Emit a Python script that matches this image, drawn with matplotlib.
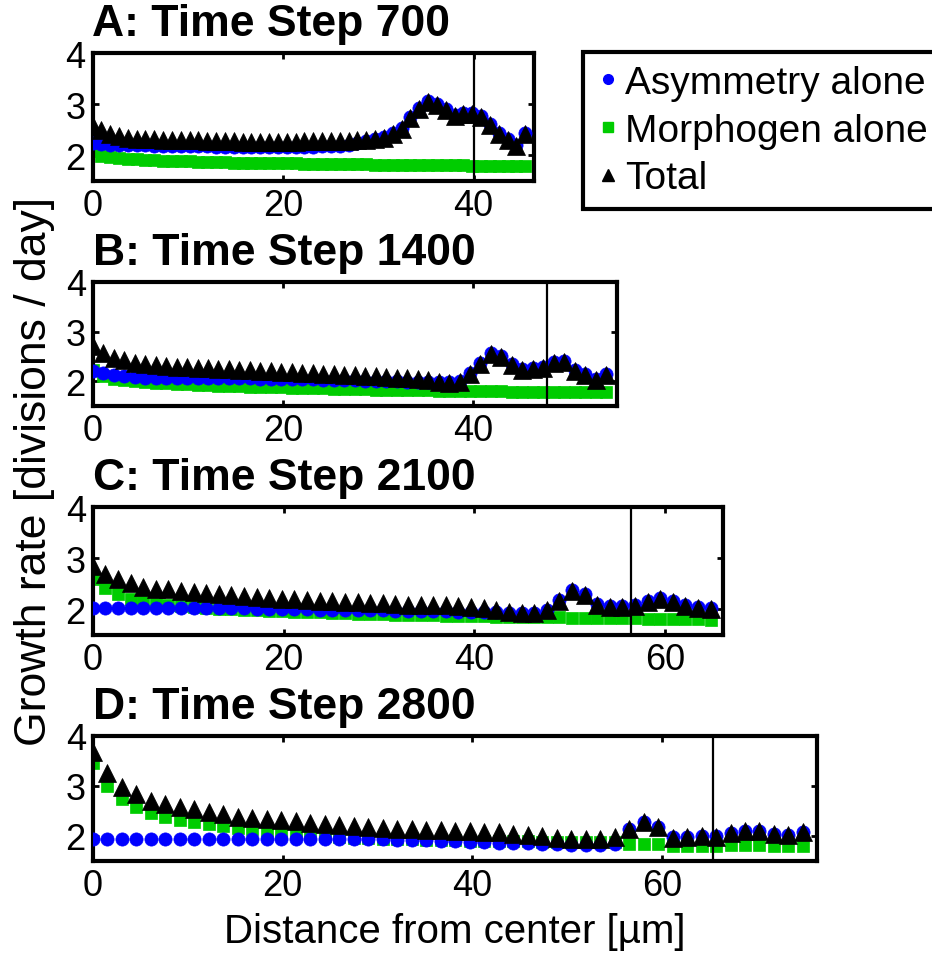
#!/usr/bin/env python3
import matplotlib
matplotlib.use('Agg')
import matplotlib.pyplot as plt
from matplotlib.lines import Line2D
import numpy as np

plt.rcParams['font.family'] = ['Liberation Sans', 'DejaVu Sans']

titles = ['A: Time Step 700', 'B: Time Step 1400', 'C: Time Step 2100', 'D: Time Step 2800']
labels = ['Asymmetry alone', 'Morphogen alone', 'Total']

# cell spacing along x (um) and the boundary line of each panel
spacing = [0.927, 1.102, 1.322, 1.527]
boundary = [40.1, 47.8, 56.4, 65.3]
xmax = [46.35, 55.1, 66.1, 76.3]
xticks = [[0, 20, 40], [0, 20, 40], [0, 20, 40, 60], [0, 20, 40, 60]]

totalA = [2.57, 2.50, 2.42, 2.37, 2.34, 2.33, 2.32, 2.32, 2.31, 2.31,
          2.31, 2.30, 2.30, 2.29, 2.29, 2.28, 2.28, 2.27, 2.27, 2.27,
          2.27, 2.27, 2.27, 2.27, 2.28, 2.28, 2.28, 2.28, 2.29, 2.29,
          2.30, 2.31, 2.32, 2.34, 2.41, 2.52, 2.73, 2.90, 3.05, 2.98,
          2.88, 2.76, 2.80, 2.80, 2.75, 2.60, 2.41, 2.31, 2.18, 2.42]
asymA = [2.25, 2.22, 2.20, 2.20, 2.20, 2.20, 2.20, 2.19, 2.19, 2.19,
         2.19, 2.18, 2.18, 2.18, 2.17, 2.17, 2.17, 2.17, 2.17, 2.17,
         2.17, 2.17, 2.17, 2.17, 2.17, 2.17, 2.18, 2.18, 2.19, 2.21,
         2.24, 2.28, 2.32, 2.36, 2.43, 2.54, 2.75, 2.92, 3.07, 3.00,
         2.90, 2.78, 2.82, 2.82, 2.77, 2.62, 2.43, 2.33, 2.20, 2.44]
morphA = [2.08, 1.99, 1.97, 1.95, 1.935, 1.925, 1.915, 1.905, 1.90, 1.895,
          1.89, 1.885, 1.88, 1.875, 1.87, 1.865, 1.86, 1.86, 1.855, 1.855,
          1.85, 1.85, 1.845, 1.845, 1.84, 1.84, 1.835, 1.835, 1.83, 1.83,
          1.825, 1.825, 1.82, 1.82, 1.82, 1.815, 1.815, 1.81, 1.81, 1.81,
          1.805, 1.805, 1.805, 1.80, 1.80, 1.80, 1.80, 1.795, 1.795, 1.795]

totalB = [2.71, 2.57, 2.47, 2.42, 2.37, 2.34, 2.33, 2.30, 2.29, 2.28,
          2.27, 2.26, 2.25, 2.24, 2.23, 2.22, 2.21, 2.20, 2.19, 2.18,
          2.17, 2.16, 2.15, 2.14, 2.13, 2.12, 2.11, 2.10, 2.09, 2.07,
          2.07, 2.04, 2.02, 1.99, 1.97, 1.99, 2.14, 2.35, 2.54, 2.49,
          2.33, 2.22, 2.24, 2.27, 2.36, 2.38, 2.21, 2.12, 2.02, 2.12]
asymB = [2.21, 2.17, 2.13, 2.10, 2.08, 2.07, 2.07, 2.06, 2.06, 2.06,
         2.06, 2.06, 2.06, 2.06, 2.06, 2.06, 2.05, 2.05, 2.05, 2.05,
         2.04, 2.04, 2.03, 2.03, 2.02, 2.02, 2.01, 2.01, 2.00, 2.00,
         1.99, 1.99, 1.99, 1.99, 1.98, 2.00, 2.16, 2.37, 2.56, 2.51,
         2.35, 2.24, 2.26, 2.29, 2.38, 2.40, 2.23, 2.14, 2.04, 2.14]
morphB = [2.22, 2.10, 2.05, 2.02, 2.00, 1.98, 1.97, 1.96, 1.95, 1.94,
          1.93, 1.92, 1.915, 1.91, 1.90, 1.895, 1.89, 1.885, 1.88, 1.875,
          1.87, 1.865, 1.86, 1.855, 1.85, 1.845, 1.84, 1.835, 1.83, 1.83,
          1.825, 1.82, 1.82, 1.815, 1.81, 1.81, 1.805, 1.80, 1.80, 1.80,
          1.795, 1.795, 1.79, 1.79, 1.79, 1.785, 1.785, 1.78, 1.78, 1.78]

totalC = [2.85, 2.70, 2.59, 2.51, 2.44, 2.40, 2.39, 2.36, 2.34, 2.31,
          2.29, 2.27, 2.25, 2.24, 2.22, 2.21, 2.20, 2.19, 2.17, 2.16,
          2.15, 2.14, 2.12, 2.12, 2.11, 2.09, 2.09, 2.08, 2.08, 2.06,
          2.05, 2.02, 1.98, 1.95, 1.92, 1.92, 1.98, 2.16, 2.36, 2.27,
          2.08, 2.05, 2.05, 2.06, 2.14, 2.20, 2.15, 2.06, 2.03, 2.00]
asymC = [2.02, 2.02, 2.02, 2.02, 2.02, 2.02, 2.02, 2.02, 2.02, 2.02,
         2.02, 2.02, 2.02, 2.01, 2.01, 2.00, 2.00, 2.00, 1.99, 1.99,
         1.99, 1.98, 1.98, 1.98, 1.97, 1.97, 1.97, 1.96, 1.96, 1.95,
         1.95, 1.94, 1.94, 1.93, 1.92, 1.92, 1.99, 2.18, 2.38, 2.29,
         2.10, 2.07, 2.07, 2.08, 2.16, 2.22, 2.17, 2.08, 2.05, 2.02]
morphC = [2.59, 2.42, 2.29, 2.21, 2.15, 2.11, 2.08, 2.06, 2.04, 2.02,
          2.01, 2.00, 1.99, 1.98, 1.97, 1.96, 1.95, 1.945, 1.94, 1.93,
          1.92, 1.915, 1.91, 1.90, 1.895, 1.89, 1.885, 1.88, 1.875, 1.87,
          1.865, 1.86, 1.855, 1.85, 1.85, 1.845, 1.84, 1.84, 1.835, 1.83,
          1.83, 1.825, 1.82, 1.82, 1.815, 1.81, 1.81, 1.80, 1.80, 1.79]

totalD = [3.67, 3.26, 2.98, 2.83, 2.69, 2.63, 2.58, 2.53, 2.47, 2.43,
          2.38, 2.36, 2.33, 2.31, 2.29, 2.26, 2.24, 2.22, 2.19, 2.17,
          2.15, 2.14, 2.13, 2.12, 2.11, 2.09, 2.09, 2.07, 2.07, 2.04,
          2.02, 1.99, 1.96, 1.94, 1.93, 1.94, 1.97, 2.13, 2.27, 2.18,
          1.96, 1.97, 1.99, 1.98, 2.05, 2.09, 2.09, 2.03, 2.01, 2.07]
asymD = [1.94, 1.94, 1.94, 1.94, 1.94, 1.94, 1.94, 1.94, 1.94, 1.94,
         1.94, 1.93, 1.93, 1.93, 1.93, 1.93, 1.93, 1.93, 1.93, 1.93,
         1.93, 1.92, 1.92, 1.91, 1.90, 1.89, 1.88, 1.87, 1.86, 1.85,
         1.85, 1.84, 1.83, 1.82, 1.81, 1.81, 1.84, 2.13, 2.27, 2.18,
         1.97, 1.98, 2.00, 1.99, 2.06, 2.10, 2.10, 2.04, 2.02, 2.08]
morphD = [3.46, 2.99, 2.73, 2.57, 2.45, 2.37, 2.32, 2.27, 2.23, 2.19,
          2.15, 2.13, 2.09, 2.07, 2.03, 2.01, 1.99, 1.97, 1.96, 1.95,
          1.94, 1.93, 1.925, 1.92, 1.91, 1.905, 1.90, 1.895, 1.89, 1.89,
          1.885, 1.88, 1.88, 1.875, 1.875, 1.87, 1.87, 1.84, 1.83, 1.83,
          1.80, 1.80, 1.80, 1.80, 1.81, 1.82, 1.82, 1.80, 1.79, 1.80]

totals = [totalA, totalB, totalC, totalD]
asyms = [asymA, asymB, asymC, asymD]
morphs = [morphA, morphB, morphC, morphD]

W, H = 932, 954
# axes boxes in pixels: left, top, right, bottom
boxes = [(92.5, 54, 534, 182), (92.7, 282.7, 616.7, 407.3),
         (92.7, 508.3, 723.3, 635.7), (92.7, 736.7, 817, 861.7)]

blue = '#0000ff'
green = '#00cc00'
msCirc, msSq, msTri = 9.5, 9, 12.5

fig = plt.figure(figsize=(W / 100, H / 100), dpi=100)

axes = []
for k in range(4):
    l, t, r, b = boxes[k]
    ax = fig.add_axes([l / W, 1 - b / H, (r - l) / W, (b - t) / H])
    x = np.arange(len(totals[k])) * spacing[k]
    ax.plot(x, morphs[k], 's', color=green, ms=msSq, mec=green, mew=0.5, zorder=2)
    ax.plot(x, asyms[k], 'o', color=blue, ms=msCirc, mec=blue, mew=0.5, zorder=3)
    ax.plot(x, totals[k], '^', color='black', ms=msTri, mec='black', mew=0.5, zorder=4)
    ax.axvline(boundary[k], color='black', lw=1.6, zorder=5)
    ax.set_xlim(0, xmax[k])
    ax.set_ylim(1.5, 4)
    ax.set_xticks(xticks[k])
    ax.set_yticks([2, 3, 4])
    ax.tick_params(direction='in', length=4, width=2, labelsize=26, pad=5,
                   top=True, right=True)
    for s in ax.spines.values():
        s.set_linewidth(3)
    ax.set_title(titles[k], loc='left', fontsize=32, fontweight='bold', pad=13)
    axes.append(ax)

axes[3].set_xlabel('Distance from center [µm]', fontsize=29, labelpad=7)
fig.text(35 / W, 1 - 472 / H, 'Growth rate [divisions / day]', rotation=90,
         ha='center', va='center', fontsize=32)

handles = [Line2D([], [], ls='none', marker='o', color=blue, ms=7),
           Line2D([], [], ls='none', marker='s', color=green, ms=7),
           Line2D([], [], ls='none', marker='^', color='black', ms=9)]
leg = fig.legend(handles, labels, loc='upper left',
                 bbox_to_anchor=(583 / W, 1 - 53 / H), fontsize=28,
                 frameon=True, fancybox=False, edgecolor='black', framealpha=1,
                 borderaxespad=0, handlelength=0.6, handletextpad=0.15,
                 labelspacing=0.3, borderpad=0.33)
leg.get_frame().set_linewidth(3)

fig.savefig('out.png', dpi=100)
